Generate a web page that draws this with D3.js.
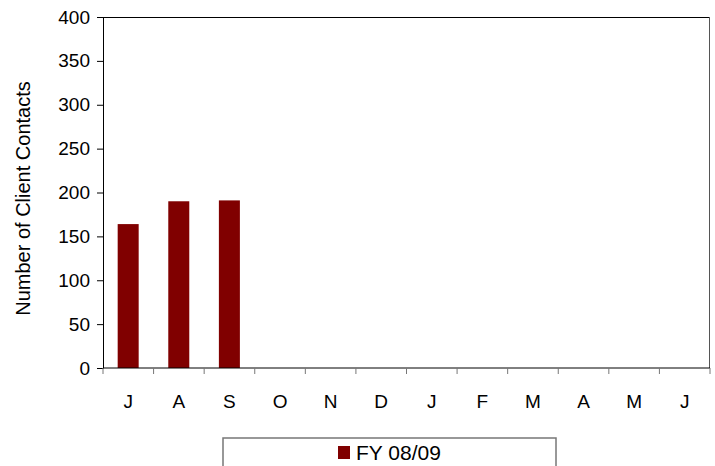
<!DOCTYPE html>
<html>
<head>
<meta charset="utf-8">
<script src="https://cdn.jsdelivr.net/npm/d3@7"></script>
<style>
  body { margin: 0; background: #fff; }
  svg { font-family: "Liberation Sans", Arial, sans-serif; }
</style>
</head>
<body>
<div id="chart"></div>
<script>
// data
var months = ['J', 'A', 'S', 'O', 'N', 'D', 'J', 'F', 'M', 'A', 'M', 'J'];
var contacts = [164, 190, 191, null, null, null, null, null, null, null, null, null];
var yTicks = [0, 50, 100, 150, 200, 250, 300, 350, 400];
var seriesName = 'FY 08/09';

var w = 715, h = 466;
var margin = {top: 17, right: 5, bottom: 98, left: 103};
var innerW = w - margin.left - margin.right,
    innerH = h - margin.top - margin.bottom;

var svg = d3.select('#chart').append('svg')
    .attr('width', w)
    .attr('height', h);

var g = svg.append('g')
    .attr('transform', 'translate(' + [margin.left, margin.top] + ')');

// scales
var x = d3.scaleBand()
    .domain(d3.range(months.length))
    .range([0, innerW])
    .paddingInner(0.585)
    .paddingOuter(0.29);
var step = innerW / months.length;
var y = d3.scaleLinear()
    .domain([0, 400])
    .range([innerH, 0]);

// frame: top and right
g.append('line')
    .attr('x1', 0).attr('x2', innerW)
    .attr('y1', 0.5).attr('y2', 0.5)
    .attr('stroke', '#000');
g.append('line')
    .attr('x1', innerW - 0.5).attr('x2', innerW - 0.5)
    .attr('y1', 0).attr('y2', innerH)
    .attr('stroke', '#555');

// bars
g.selectAll('rect.bar')
    .data(contacts.map(function(d, i) { return {i: i, v: d}; })
        .filter(function(d) { return d.v != null; }))
    .enter().append('rect')
    .attr('class', 'bar')
    .attr('x', function(d) { return x(d.i); })
    .attr('width', x.bandwidth())
    .attr('y', function(d) { return y(d.v); })
    .attr('height', function(d) { return innerH - y(d.v); })
    .attr('fill', '#800000');

// y axis
var yAxis = g.append('g')
    .call(d3.axisLeft(y).tickValues(yTicks).tickSize(6).tickPadding(7));
yAxis.select('.domain').attr('stroke', '#000');
yAxis.selectAll('.tick line').attr('stroke', '#000');
yAxis.selectAll('text')
    .attr('font-size', '19px')
    .attr('fill', '#000')
    .style('font-family', '"Liberation Sans", Arial, sans-serif');

// x axis: ticks at band boundaries
var edge = d3.scaleLinear().domain([0, months.length]).range([0, innerW]);
var xAxis = g.append('g')
    .attr('transform', 'translate(0,' + innerH + ')');
xAxis.append('line')
    .attr('x1', 0).attr('x2', innerW)
    .attr('stroke', '#000');
xAxis.selectAll('line.tk')
    .data(d3.range(months.length + 1))
    .enter().append('line')
    .attr('class', 'tk')
    .attr('x1', function(d) { return edge(d); })
    .attr('x2', function(d) { return edge(d); })
    .attr('y1', 0).attr('y2', 6)
    .attr('stroke', '#777');
xAxis.selectAll('text')
    .data(months)
    .enter().append('text')
    .attr('x', function(d, i) { return edge(i) + step / 2; })
    .attr('y', 40)
    .attr('text-anchor', 'middle')
    .attr('font-size', '19px')
    .text(function(d) { return d; });

// y title
svg.append('text')
    .attr('transform', 'translate(30,' + (margin.top + innerH / 2 + 6) + ') rotate(-90)')
    .attr('text-anchor', 'middle')
    .attr('font-size', '20px')
    .text('Number of Client Contacts');

// legend
var legend = svg.append('g');
legend.append('rect')
    .attr('x', 223).attr('y', 438)
    .attr('width', 333).attr('height', 40)
    .attr('fill', '#fff')
    .attr('stroke', '#777')
    .attr('stroke-width', 1.5);
legend.append('rect')
    .attr('x', 338).attr('y', 446)
    .attr('width', 12).attr('height', 13)
    .attr('fill', '#800000');
legend.append('text')
    .attr('x', 356).attr('y', 460)
    .attr('font-size', '21px')
    .text(seriesName);
</script>
</body>
</html>
